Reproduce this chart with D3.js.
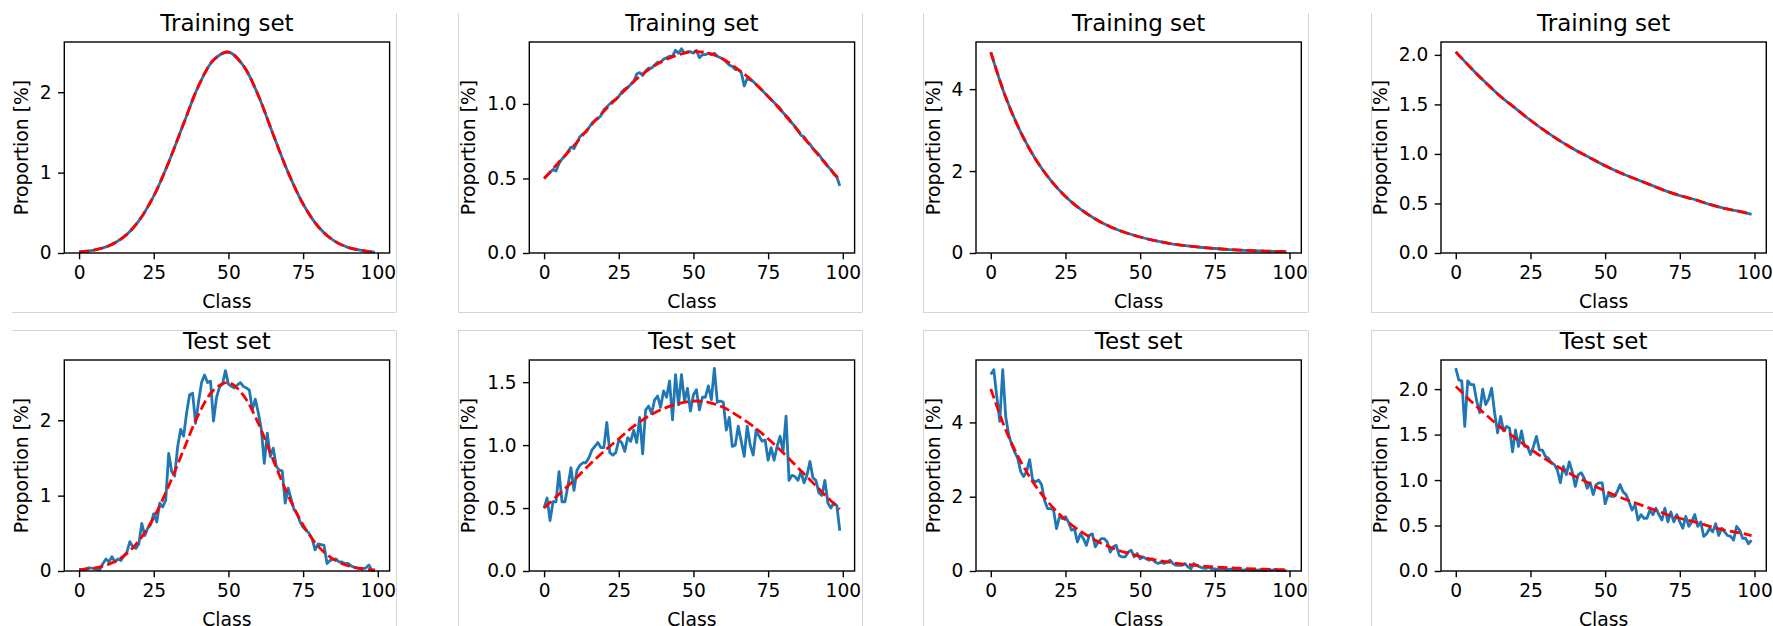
<!DOCTYPE html>
<html>
<head>
<meta charset="utf-8">
<script src="https://cdn.jsdelivr.net/npm/d3@7"></script>
<style>
  body { margin: 0; background: #fff; }
  text { font-family: "DejaVu Sans", sans-serif; fill: #000; }
</style>
</head>
<body>
<svg id="chart" width="1773" height="626"></svg>
<script>
// ---- data ----
const classes = d3.range(100);
const xTicks = [0, 25, 50, 75, 100];

// red dashed reference curves, sampled every 5 classes
const refClass = [0, 5, 10, 15, 20, 25, 30, 35, 40, 45, 50, 55, 60, 65, 70, 75, 80, 85, 90, 95, 99];
const refNormal = [0.014, 0.037, 0.09, 0.20, 0.40, 0.71, 1.13, 1.61, 2.08, 2.40, 2.50, 2.33, 1.96, 1.47, 1.00, 0.61, 0.33, 0.16, 0.07, 0.03, 0.01];
const refWide = [0.50, 0.61, 0.72, 0.84, 0.95, 1.05, 1.15, 1.23, 1.29, 1.33, 1.35, 1.34, 1.30, 1.23, 1.15, 1.05, 0.94, 0.82, 0.70, 0.58, 0.49];
const refSteep = [4.90, 3.80, 2.95, 2.29, 1.78, 1.38, 1.07, 0.83, 0.64, 0.50, 0.39, 0.30, 0.23, 0.18, 0.14, 0.11, 0.084, 0.065, 0.051, 0.04, 0.032];
const refMild = [2.03, 1.87, 1.72, 1.58, 1.46, 1.34, 1.23, 1.13, 1.04, 0.96, 0.88, 0.81, 0.75, 0.69, 0.63, 0.58, 0.54, 0.49, 0.45, 0.42, 0.39];

// training set, second column (the only one that departs from its reference)
const trainWide = [0.50, 0.52, 0.54, 0.56, 0.55, 0.60, 0.63, 0.65, 0.68, 0.71,
  0.70, 0.74, 0.78, 0.80, 0.81, 0.84, 0.87, 0.89, 0.90, 0.92,
  0.96, 0.98, 1.00, 1.02, 1.03, 1.05, 1.08, 1.10, 1.11, 1.13,
  1.15, 1.20, 1.21, 1.19, 1.22, 1.24, 1.24, 1.26, 1.28, 1.28,
  1.30, 1.31, 1.32, 1.32, 1.36, 1.34, 1.37, 1.34, 1.35, 1.35,
  1.34, 1.36, 1.31, 1.33, 1.33, 1.34, 1.33, 1.34, 1.32, 1.31,
  1.30, 1.28, 1.26, 1.25, 1.23, 1.23, 1.21, 1.12, 1.17, 1.16,
  1.15, 1.13, 1.11, 1.09, 1.07, 1.05, 1.03, 1.01, 0.99, 0.97,
  0.94, 0.92, 0.90, 0.87, 0.85, 0.82, 0.79, 0.78, 0.75, 0.73,
  0.70, 0.68, 0.66, 0.63, 0.61, 0.58, 0.56, 0.53, 0.51, 0.45];

// test sets
const testNormal = [0.02, 0.02, 0.03, 0.04, 0.04, 0.03, 0.02, 0.02, 0.10, 0.16,
  0.12, 0.19, 0.12, 0.16, 0.14, 0.20, 0.25, 0.39, 0.32, 0.30,
  0.36, 0.63, 0.47, 0.57, 0.62, 0.76, 0.65, 0.90, 0.85, 0.94,
  1.56, 1.32, 1.26, 1.65, 1.88, 1.79, 2.10, 2.34, 2.36, 1.96,
  2.25, 2.50, 2.60, 2.50, 2.52, 1.99, 2.30, 2.44, 2.48, 2.66,
  2.48, 2.45, 2.43, 2.47, 2.50, 2.45, 2.43, 2.40, 2.14, 2.28,
  2.10, 1.88, 1.43, 1.83, 1.52, 1.63, 1.39, 1.34, 1.33, 0.90,
  1.10, 0.95, 0.81, 0.76, 0.65, 0.58, 0.54, 0.50, 0.43, 0.28,
  0.36, 0.35, 0.34, 0.10, 0.14, 0.15, 0.16, 0.12, 0.12, 0.10,
  0.10, 0.07, 0.05, 0.04, 0.03, 0.03, 0.04, 0.08, 0.01, 0.01];
const testWide = [0.50, 0.58, 0.40, 0.55, 0.55, 0.79, 0.55, 0.55, 0.68, 0.82,
  0.64, 0.80, 0.84, 0.86, 0.86, 0.90, 0.96, 0.99, 1.02, 0.98,
  0.98, 1.18, 0.94, 0.92, 0.94, 1.04, 1.02, 0.95, 1.06, 1.03,
  1.12, 1.02, 1.22, 0.93, 1.28, 1.31, 1.25, 1.36, 1.39, 1.30,
  1.43, 1.38, 1.51, 1.20, 1.56, 1.32, 1.56, 1.35, 1.45, 1.27,
  1.40, 1.44, 1.28, 1.38, 1.38, 1.47, 1.36, 1.61, 1.34, 1.35,
  1.34, 1.12, 1.22, 0.99, 1.00, 1.15, 1.03, 0.91, 1.15, 1.00,
  0.92, 1.12, 1.07, 1.03, 1.04, 0.88, 0.98, 0.88, 0.99, 1.07,
  0.95, 1.23, 0.72, 0.76, 0.75, 0.72, 0.79, 0.70, 0.76, 0.87,
  0.74, 0.72, 0.62, 0.60, 0.72, 0.54, 0.50, 0.54, 0.52, 0.32];
const testSteep = [5.29, 5.42, 4.70, 4.03, 5.42, 4.15, 3.67, 3.40, 3.20, 3.04,
  2.68, 2.54, 2.68, 3.00, 2.45, 2.40, 2.45, 2.32, 1.90, 1.68,
  1.68, 1.64, 1.14, 1.46, 1.41, 1.46, 1.32, 1.10, 1.14, 0.78,
  1.00, 0.87, 0.69, 0.96, 1.00, 0.65, 0.78, 0.87, 0.87, 0.78,
  0.51, 0.65, 0.69, 0.42, 0.38, 0.38, 0.51, 0.56, 0.38, 0.47,
  0.33, 0.38, 0.33, 0.29, 0.33, 0.24, 0.20, 0.24, 0.20, 0.24,
  0.29, 0.20, 0.15, 0.15, 0.15, 0.20, 0.11, 0.06, 0.20, 0.15,
  0.11, 0.08, 0.07, 0.10, 0.05, 0.06, 0.04, 0.06, 0.05, 0.03,
  0.05, 0.04, 0.03, 0.04, 0.02, 0.03, 0.04, 0.02, 0.03, 0.02,
  0.03, 0.02, 0.01, 0.03, 0.02, 0.04, 0.01, 0.02, 0.01, 0.01];
const testMild = [2.23, 2.10, 2.09, 1.59, 2.09, 2.05, 2.05, 1.87, 1.74, 2.00,
  1.83, 1.89, 2.01, 1.74, 1.52, 1.70, 1.54, 1.59, 1.57, 1.31,
  1.55, 1.37, 1.54, 1.37, 1.37, 1.28, 1.37, 1.48, 1.33, 1.33,
  1.26, 1.24, 1.19, 1.17, 1.11, 0.97, 1.15, 1.06, 1.20, 1.09,
  0.93, 1.06, 1.08, 1.02, 0.91, 0.97, 0.84, 0.95, 0.97, 0.97,
  0.74, 0.84, 0.82, 0.82, 0.87, 0.95, 0.87, 0.84, 0.76, 0.67,
  0.73, 0.56, 0.62, 0.58, 0.58, 0.67, 0.62, 0.69, 0.62, 0.56,
  0.69, 0.54, 0.65, 0.54, 0.62, 0.54, 0.47, 0.60, 0.49, 0.54,
  0.62, 0.49, 0.54, 0.38, 0.41, 0.47, 0.43, 0.52, 0.39, 0.47,
  0.43, 0.39, 0.38, 0.34, 0.49, 0.45, 0.36, 0.36, 0.30, 0.34];

const titles = ["Training set", "Test set"];
const refCurves = [refNormal, refWide, refSteep, refMild];
const trainLines = [refNormal, trainWide, refSteep, refMild];
const testLines = [testNormal, testWide, testSteep, testMild];
const yMaxTrain = [2.625, 1.415, 5.15, 2.13];
const yMaxTest = [2.8, 1.676, 5.68, 2.32];
const yTicksTrain = [[0, 1, 2], [0, 0.5, 1.0], [0, 2, 4], [0, 0.5, 1.0, 1.5, 2.0]];
const yTicksTest = [[0, 1, 2], [0, 0.5, 1.0, 1.5], [0, 2, 4], [0, 0.5, 1.0, 1.5, 2.0]];

// ---- layout ----
const colLeft = [64.3, 529.3, 976, 1441];
const rowTop = [42, 360];
const W = 325.3, H = 211;
const blue = "#1f77b4";

const svg = d3.select("#chart");

// light gray frames around each sub-figure
const frameX = [[12, 396], [458, 862], [923, 1308], [1371, 1773]];
const frameColor = "#d4d4d4";
frameX.forEach(function(fx, i) {
  svg.append("line").attr("x1", fx[0]).attr("x2", fx[1]).attr("y1", 312.5).attr("y2", 312.5)
    .attr("stroke", frameColor).attr("stroke-width", 1);
  svg.append("line").attr("x1", fx[0]).attr("x2", fx[1]).attr("y1", 330.5).attr("y2", 330.5)
    .attr("stroke", frameColor).attr("stroke-width", 1);
  fx.forEach(function(vx, k) {
    if (i == 0 && k == 0) return;
    svg.append("line").attr("x1", vx + 0.5).attr("x2", vx + 0.5).attr("y1", 13).attr("y2", 312.5)
      .attr("stroke", frameColor).attr("stroke-width", 1);
    svg.append("line").attr("x1", vx + 0.5).attr("x2", vx + 0.5).attr("y1", 330.5).attr("y2", 626)
      .attr("stroke", frameColor).attr("stroke-width", 1);
  });
});

function drawPanel(col, row, line, ref, yMax, yTicks) {
  const g = svg.append("g")
    .attr("transform", "translate(" + colLeft[col] + "," + rowTop[row] + ")");

  let x = d3.scaleLinear().domain([-4.95, 103.95]).range([0, W]);
  let y = d3.scaleLinear().domain([0, yMax]).range([H, 0]);

  // measured line
  const lineGen = line.length == 100
    ? d3.line().x((d, i) => x(classes[i])).y(d => y(d))
    : d3.line().x((d, i) => x(refClass[i])).y(d => y(d)).curve(d3.curveCatmullRom);
  g.append("path")
    .datum(line)
    .attr("fill", "none")
    .attr("stroke", blue)
    .attr("stroke-width", 2.8)
    .attr("stroke-linejoin", "round")
    .attr("d", lineGen);

  // reference curve, red dashed
  g.append("path")
    .datum(ref)
    .attr("fill", "none")
    .attr("stroke", "#ff0000")
    .attr("stroke-width", 2.8)
    .attr("stroke-dasharray", "10,4.3")
    .attr("d", d3.line().x((d, i) => x(refClass[i])).y(d => y(d)).curve(d3.curveCatmullRom));

  // axes
  const fmt = yTicks.some(t => t % 1 != 0) ? d3.format(".1f") : d3.format("d");
  const xa = g.append("g")
    .attr("transform", "translate(0," + H + ")")
    .call(d3.axisBottom(x).tickValues(xTicks).tickSize(6.3).tickPadding(6).tickSizeOuter(0));
  const ya = g.append("g")
    .call(d3.axisLeft(y).tickValues(yTicks).tickFormat(fmt).tickSize(6.3).tickPadding(6.3).tickSizeOuter(0));
  [xa, ya].forEach(function(a) {
    a.select(".domain").remove();
    a.selectAll("line").attr("stroke", "#000").attr("stroke-width", 1.4);
    a.selectAll("text").style("font-size", "18.6px").style("font-family", "DejaVu Sans");
  });

  // frame of the axes
  g.append("rect")
    .attr("width", W).attr("height", H)
    .attr("fill", "none")
    .attr("stroke", "#000")
    .attr("stroke-width", 1.4);

  // labels
  g.append("text")
    .attr("x", W / 2).attr("y", -11.5)
    .attr("text-anchor", "middle")
    .style("font-size", "23px")
    .text(titles[row]);

  g.append("text")
    .attr("x", W / 2).attr("y", H + 54.5)
    .attr("text-anchor", "middle")
    .style("font-size", "18.8px")
    .text("Class");

  const bb = ya.node().getBBox();
  g.append("text")
    .attr("transform", "translate(" + (bb.x - 12) + "," + (H / 2) + ") rotate(-90)")
    .attr("text-anchor", "middle")
    .style("font-size", "18.8px")
    .text("Proportion [%]");
}

for (let c = 0; c < 4; c++) {
  drawPanel(c, 0, trainLines[c], refCurves[c], yMaxTrain[c], yTicksTrain[c]);
  drawPanel(c, 1, testLines[c], refCurves[c], yMaxTest[c], yTicksTest[c]);
}
</script>
</body>
</html>
